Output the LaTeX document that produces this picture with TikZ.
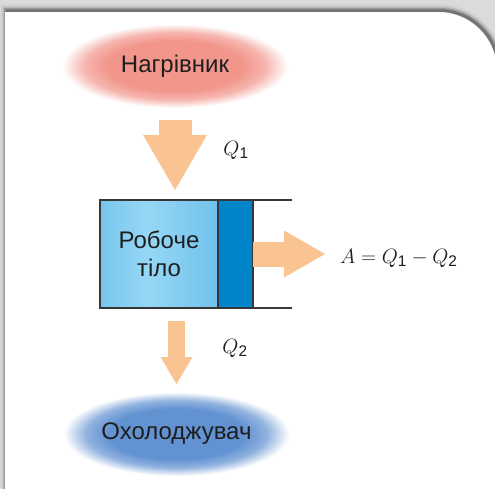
\documentclass[tikz,border=0pt]{standalone}
\usepackage{amsmath}
\usepackage{fontspec}
\setmainfont{Liberation Sans}
\usepackage{tikz}
\usetikzlibrary{positioning, arrows.meta, shapes.geometric}
\definecolor{heat}{RGB}{242,150,140}
\definecolor{cold}{RGB}{98,146,210}
\definecolor{flowcol}{RGB}{250,196,146}
\definecolor{bodyedge}{RGB}{80,176,228}
\definecolor{bodymid}{RGB}{150,215,245}
\definecolor{pistoncol}{RGB}{0,132,202}
\definecolor{frame}{RGB}{55,55,55}
\definecolor{ink}{RGB}{30,30,30}
\pgfdeclareradialshading{heatglow}{\pgfpoint{0bp}{0bp}}{color(0bp)=(heat); color(15bp)=(heat); color(20bp)=(heat!70!white); color(25bp)=(white); color(50bp)=(white)}
\pgfdeclareradialshading{coldglow}{\pgfpoint{0bp}{0bp}}{color(0bp)=(cold); color(15bp)=(cold); color(20bp)=(cold!70!white); color(25bp)=(white); color(50bp)=(white)}
\pgfdeclarehorizontalshading{bodyfill}{100bp}{color(0bp)=(bodyedge); color(45bp)=(bodymid); color(100bp)=(bodyedge)}
\tikzset{
  reservoir/.style={
    ellipse, minimum width=226pt, minimum height=84pt,
    inner sep=0pt, outer sep=0pt, text=ink, font=\fontsize{24}{28}\selectfont
  },
  workbody/.style={
    minimum width=118pt, minimum height=108pt, inner sep=0pt, outer sep=0pt,
    shading=bodyfill, align=center, text=ink, font=\fontsize{24}{28}\selectfont
  },
  pistonbox/.style={minimum width=35pt, minimum height=108pt, inner sep=0pt, outer sep=0pt, fill=pistoncol},
  wall/.style={draw=frame, line width=1.4pt},
  formula/.style={inner sep=0pt, text=ink, font=\fontsize{22}{26}\selectfont},
  flow in/.style={draw=flowcol, line width=33pt, -{Triangle[length=55pt, width=64pt, line width=0pt]}},
  flow work/.style={draw=flowcol, line width=25pt, -{Triangle[length=41pt, width=47pt, line width=0pt]}},
  flow out/.style={draw=flowcol, line width=17pt, -{Triangle[length=27pt, width=32pt, line width=0pt]}},
}
\begin{document}
\begin{tikzpicture}[x=1pt, y=-1pt]
  \useasboundingbox (0,0) rectangle (495,488);
  % page card with its shadow
  \fill[black!14] (0,0) rectangle (495,488);
  \foreach \w/\c in {12/18, 8/28, 5/40, 2.5/55}
    \draw[black!\c, line width=\w pt, xshift=1.5pt, yshift=1.5pt]
      (5,500) -- (5,12) -- (438,12) arc[start angle=-90, end angle=0, radius=59] -- (497,500);
  \fill[white] (5,500) -- (5,12) -- (438,12) arc[start angle=-90, end angle=0, radius=59] -- (497,500) -- cycle;

  \node[reservoir, shading=coldglow] (cooler) at (176.5,434) {Охолоджувач};
  \node[reservoir, shading=heatglow] (heater) at (175,66) {Нагрівник};
  \node[workbody] (body) at (159,254) {Робоче\\тіло};
  \node[pistonbox, right=0pt of body] (piston) {};
  \draw[wall] (body.north west) rectangle (piston.south east)
              (piston.north west) -- (piston.south west);
  \draw[wall] (piston.north east) -- ++(39,0)
              (piston.south east) -- ++(39,0);

  \node[formula, anchor=west] (work) at (340,258) {$A = Q_{\text{1}} - Q_{\text{2}}$};
  \node[formula] (q1) at (236,150) {$Q_{\text{1}}$};
  \node[formula] (q2) at (235,348) {$Q_{\text{2}}$};

  \draw[flow in, shorten <=12pt, shorten >=10pt] (heater.south) -- (heater.south |- body.north);
  \draw[flow work, shorten >=15pt] (piston.east) -- (piston.east -| work.west);
  \draw[flow out, shorten <=13pt, shorten >=8pt] (cooler.north |- body.south) -- (cooler.north);
\end{tikzpicture}
\end{document}
